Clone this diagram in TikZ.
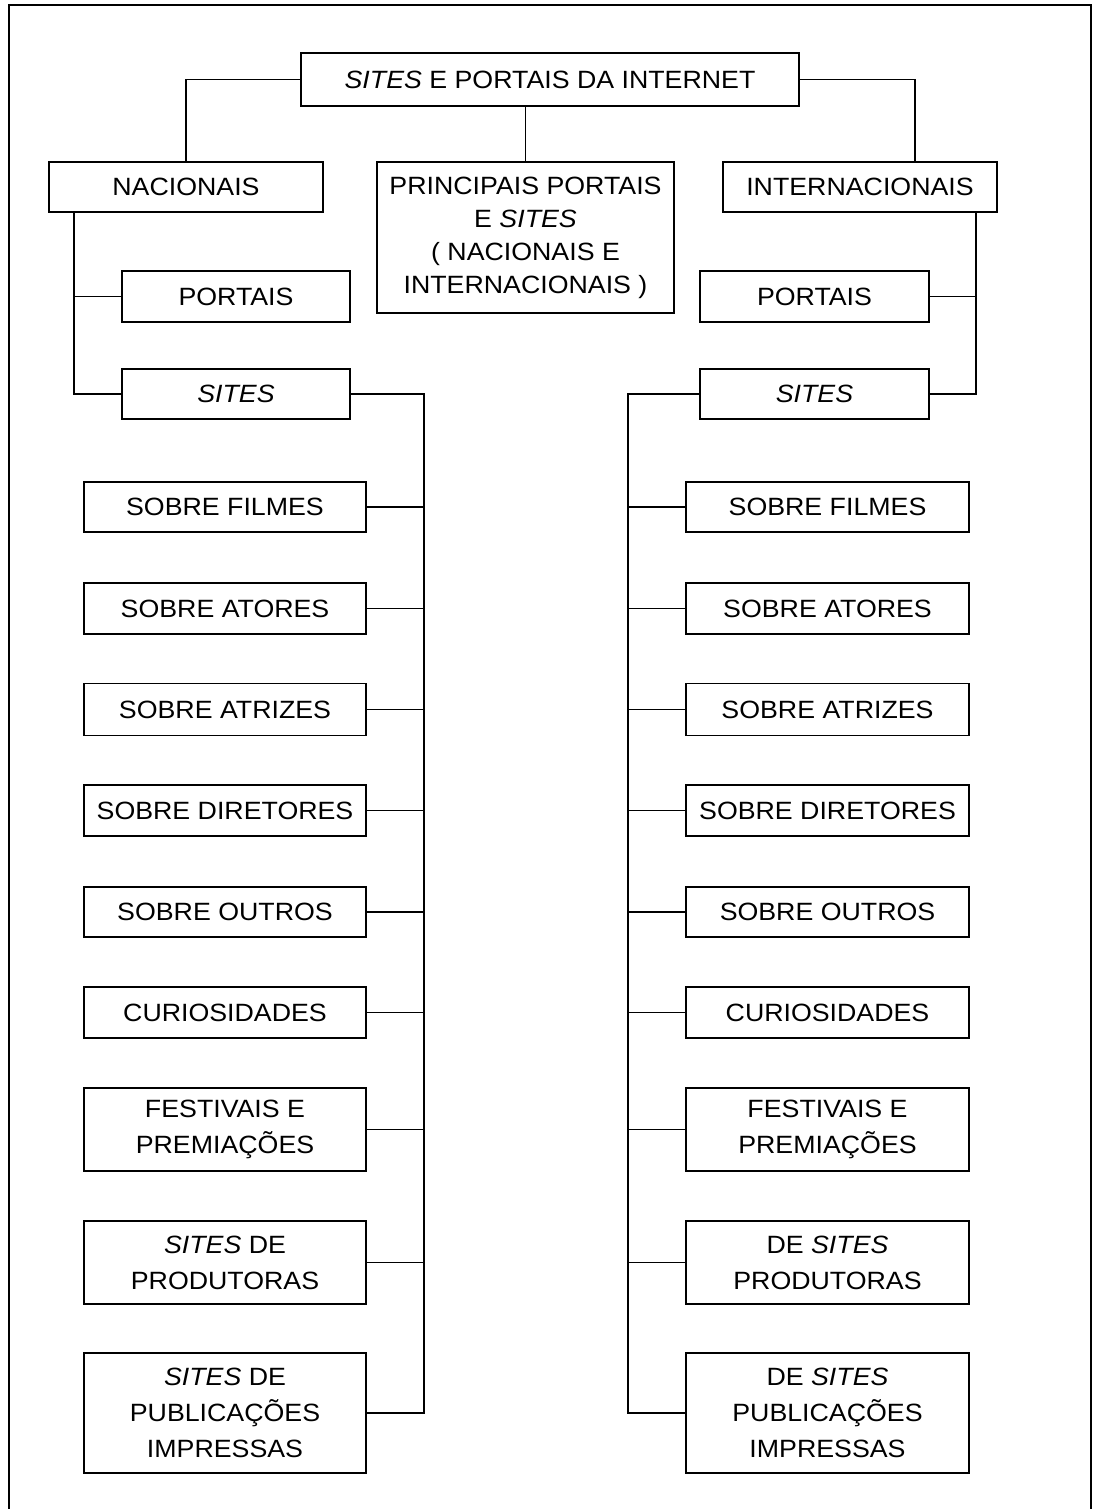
\documentclass[tikz,border=0pt]{standalone}
\usepackage{fontspec}
\setmainfont{Liberation Sans}[FakeStretch=1.07]
\begin{document}
\begin{tikzpicture}[x=1pt,y=-1pt,
  box/.style={draw,line width=1.9pt,inner sep=0pt,align=center,
    font=\fontsize{25}{36}\selectfont},
  conn/.style={line width=1.9pt}]
\useasboundingbox (0,0) rectangle (1098,1509);
% frame
\draw[line width=1.9pt] (9,1512) -- (9,5) -- (1091,5) -- (1091,1512);
% top level
\node[box,minimum width=498pt,minimum height=53pt] (top) at (550,79.5) {\textit{SITES} E PORTAIS DA INTERNET};
\node[box,minimum width=274pt,minimum height=50pt] (nac) at (186,187) {NACIONAIS};
\node[box,minimum width=297pt,minimum height=151pt,font=\fontsize{25}{33}\selectfont] (cen) at (525.5,237.5) {PRINCIPAIS PORTAIS\\E \textit{SITES}\\( NACIONAIS E\\INTERNACIONAIS )};
\node[box,minimum width=274pt,minimum height=50pt] (int) at (860,187) {INTERNACIONAIS};
\coordinate (ic) at (915,162);
\draw[conn] (top.west) -| (nac.north);
\draw[conn] (cen.north) -- (cen.north |- top.south);
\draw[conn] (top.east) -| (ic);
% second level
\node[box,minimum width=228pt,minimum height=51pt] (lport) at (236,296.5) {PORTAIS};
\node[box,minimum width=228pt,minimum height=50pt] (lsites) at (236,394) {\textit{SITES}};
\node[box,minimum width=229pt,minimum height=51pt] (rport) at (814.5,296.5) {PORTAIS};
\node[box,minimum width=229pt,minimum height=50pt] (rsites) at (814.5,394) {\textit{SITES}};
\coordinate (lt) at (74,212);
\coordinate (rt) at (976,212);
\draw[conn] (lt) |- (lport.west);
\draw[conn] (lt) |- (lsites.west);
\draw[conn] (rt) |- (rport.east);
\draw[conn] (rt) |- (rsites.east);
% left items
\node[box,minimum width=282pt,minimum height=50pt] (l1) at (225,507) {SOBRE FILMES};
\node[box,minimum width=282pt,minimum height=51pt] (l2) at (225,608.5) {SOBRE ATORES};
\node[box,minimum width=282pt,minimum height=52pt] (l3) at (225,709.5) {SOBRE ATRIZES};
\node[box,minimum width=282pt,minimum height=51pt] (l4) at (225,810.5) {SOBRE DIRETORES};
\node[box,minimum width=282pt,minimum height=50pt] (l5) at (225,912) {SOBRE OUTROS};
\node[box,minimum width=282pt,minimum height=51pt] (l6) at (225,1012.5) {CURIOSIDADES};
\node[box,minimum width=282pt,minimum height=83pt] (l7) at (225,1129.5) {FESTIVAIS E\\PREMIAÇÕES};
\node[box,minimum width=282pt,minimum height=83pt] (l8) at (225,1262.5) {\textit{SITES} DE\\PRODUTORAS};
\node[box,minimum width=282pt,minimum height=120pt] (l9) at (225,1413) {\textit{SITES} DE\\PUBLICAÇÕES\\IMPRESSAS};
% right items
\node[box,minimum width=283pt,minimum height=50pt] (r1) at (827.5,507) {SOBRE FILMES};
\node[box,minimum width=283pt,minimum height=51pt] (r2) at (827.5,608.5) {SOBRE ATORES};
\node[box,minimum width=283pt,minimum height=52pt] (r3) at (827.5,709.5) {SOBRE ATRIZES};
\node[box,minimum width=283pt,minimum height=51pt] (r4) at (827.5,810.5) {SOBRE DIRETORES};
\node[box,minimum width=283pt,minimum height=50pt] (r5) at (827.5,912) {SOBRE OUTROS};
\node[box,minimum width=283pt,minimum height=51pt] (r6) at (827.5,1012.5) {CURIOSIDADES};
\node[box,minimum width=283pt,minimum height=83pt] (r7) at (827.5,1129.5) {FESTIVAIS E\\PREMIAÇÕES};
\node[box,minimum width=283pt,minimum height=83pt] (r8) at (827.5,1262.5) {DE \textit{SITES}\\PRODUTORAS};
\node[box,minimum width=283pt,minimum height=120pt] (r9) at (827.5,1413) {DE \textit{SITES}\\PUBLICAÇÕES\\IMPRESSAS};
\coordinate (lend) at (424,1413);
\coordinate (rend) at (628,1413);
\draw[conn] (lsites.east) -| (lend) -- (l9.east);
\draw[conn] (rsites.west) -| (rend) -- (r9.west);
\foreach \i in {1,...,8}{
  \draw[conn] (l\i.east) -- (l\i.east -| lend);
  \draw[conn] (r\i.west) -- (r\i.west -| rend);
}
\end{tikzpicture}
\end{document}
